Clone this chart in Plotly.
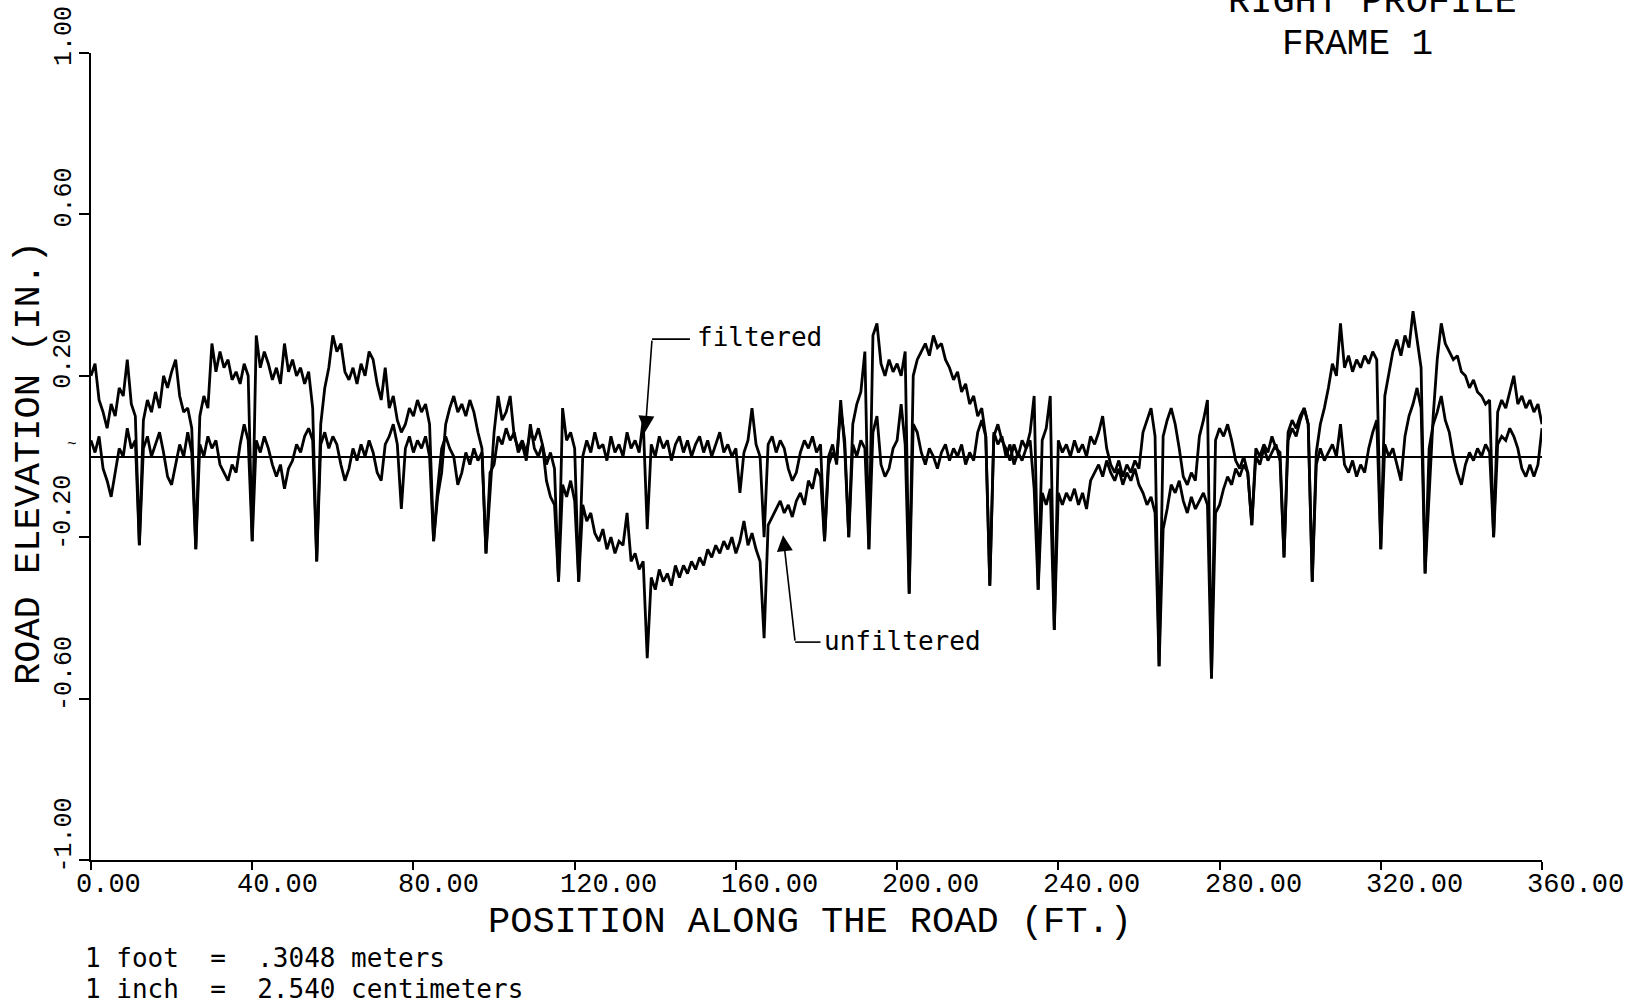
import plotly.graph_objects as go

# Road elevation profile, right wheel track, frame 1 (sampled every foot)
position_ft = list(range(0, 361))

unfiltered_in = [
    0.20, 0.23, 0.14, 0.11, 0.07, 0.13, 0.10, 0.17, 0.15, 0.24,
    0.13, 0.10, -0.22, 0.09, 0.14, 0.11, 0.16, 0.12, 0.20, 0.17,
    0.21, 0.24, 0.15, 0.11, 0.12, 0.07, -0.23, 0.10, 0.15, 0.12,
    0.28, 0.21, 0.26, 0.22, 0.24, 0.19, 0.21, 0.18, 0.23, 0.20,
    -0.21, 0.30, 0.22, 0.26, 0.23, 0.19, 0.22, 0.18, 0.28, 0.21,
    0.24, 0.20, 0.22, 0.18, 0.21, 0.12, -0.26, 0.08, 0.17, 0.22,
    0.30, 0.26, 0.28, 0.21, 0.19, 0.22, 0.18, 0.23, 0.20, 0.26,
    0.24, 0.18, 0.14, 0.22, 0.12, 0.15, 0.09, 0.06, 0.08, 0.12,
    0.10, 0.14, 0.11, 0.13, 0.08, -0.21, -0.10, -0.04, 0.08, 0.12,
    0.15, 0.11, 0.13, 0.10, 0.14, 0.11, 0.06, 0.02, -0.24, -0.08,
    0.06, 0.15, 0.09, 0.11, 0.15, 0.05, 0.02, 0.04, 0.01, 0.06,
    0.04, 0.07, 0.03, -0.06, -0.10, -0.12, -0.31, -0.07, -0.10, -0.06,
    -0.11, -0.31, -0.12, -0.16, -0.14, -0.19, -0.21, -0.18, -0.23, -0.20,
    -0.24, -0.21, -0.22, -0.14, -0.26, -0.24, -0.28, -0.26, -0.50, -0.30,
    -0.33, -0.28, -0.31, -0.29, -0.32, -0.27, -0.30, -0.27, -0.29, -0.26,
    -0.28, -0.25, -0.27, -0.23, -0.25, -0.22, -0.24, -0.21, -0.23, -0.20,
    -0.24, -0.21, -0.16, -0.22, -0.19, -0.23, -0.26, -0.45, -0.17, -0.15,
    -0.13, -0.11, -0.14, -0.12, -0.15, -0.11, -0.09, -0.12, -0.06, -0.08,
    -0.03, -0.05, -0.21, -0.02, 0.01, -0.01, 0.12, 0.04, -0.20, 0.08,
    0.13, 0.16, 0.26, -0.23, 0.30, 0.33, 0.23, 0.20, 0.24, 0.21,
    0.23, 0.20, 0.26, -0.34, 0.20, 0.24, 0.26, 0.28, 0.25, 0.30,
    0.27, 0.28, 0.24, 0.22, 0.19, 0.21, 0.16, 0.18, 0.13, 0.15,
    0.10, 0.12, 0.05, -0.32, 0.06, 0.03, 0.05, 0.00, 0.03, -0.02,
    0.01, -0.01, 0.02, 0.04, -0.08, -0.33, -0.09, -0.12, -0.08, -0.43,
    -0.09, -0.12, -0.09, -0.11, -0.08, -0.12, -0.09, -0.13, -0.06, -0.04,
    -0.02, -0.05, -0.01, -0.04, -0.06, -0.03, -0.07, -0.04, -0.06, -0.03,
    -0.07, -0.09, -0.12, -0.10, -0.14, -0.52, -0.18, -0.13, -0.07, -0.09,
    -0.06, -0.11, -0.14, -0.10, -0.13, -0.11, -0.09, -0.12, -0.55, -0.14,
    -0.12, -0.08, -0.05, -0.07, -0.03, -0.05, -0.02, -0.04, -0.17, 0.00,
    -0.02, 0.02, -0.01, 0.01, 0.03, -0.01, -0.25, 0.04, 0.07, 0.05,
    0.09, 0.12, 0.08, -0.31, 0.01, 0.08, 0.12, 0.17, 0.23, 0.20,
    0.33, 0.22, 0.25, 0.21, 0.24, 0.22, 0.25, 0.23, 0.26, 0.24,
    -0.23, 0.15, 0.21, 0.26, 0.29, 0.25, 0.30, 0.27, 0.36, 0.29,
    0.22, -0.29, -0.08, 0.10, 0.24, 0.33, 0.28, 0.26, 0.24, 0.25,
    0.21, 0.20, 0.17, 0.19, 0.16, 0.15, 0.13, 0.14, -0.20, 0.11,
    0.14, 0.12, 0.16, 0.20, 0.13, 0.15, 0.12, 0.14, 0.11, 0.13,
    0.08,
]

filtered_in = [
    0.04, 0.01, 0.05, -0.03, -0.06, -0.10, -0.04, 0.02, 0.00, 0.07,
    0.02, 0.04, -0.22, 0.02, 0.05, 0.00, 0.03, 0.06, 0.01, -0.05,
    -0.07, -0.02, 0.03, 0.00, 0.06, 0.01, -0.23, 0.03, 0.00, 0.05,
    0.02, 0.04, -0.02, -0.04, -0.06, -0.02, -0.04, 0.03, 0.08, 0.04,
    -0.21, 0.04, 0.01, 0.05, 0.02, -0.02, -0.05, -0.02, -0.08, -0.03,
    -0.01, 0.03, 0.01, 0.05, 0.07, 0.04, -0.26, 0.03, 0.06, 0.02,
    0.05, 0.03, -0.02, -0.06, -0.03, 0.02, -0.01, 0.03, 0.00, 0.04,
    0.01, -0.04, -0.06, 0.03, 0.05, 0.08, 0.03, -0.13, 0.02, 0.05,
    0.01, 0.04, 0.02, 0.05, 0.00, -0.21, -0.08, 0.02, 0.05, 0.02,
    0.00, -0.07, -0.04, 0.01, -0.02, 0.02, -0.01, 0.01, -0.24, -0.04,
    -0.02, 0.05, 0.03, 0.07, 0.04, 0.06, 0.01, 0.03, -0.01, 0.08,
    0.02, 0.00, 0.03, -0.02, 0.01, -0.03, -0.31, 0.12, 0.04, 0.06,
    0.02, -0.31, 0.00, 0.04, 0.01, 0.06, 0.02, 0.03, -0.01, 0.05,
    0.01, 0.03, 0.00, 0.06, 0.02, 0.04, 0.01, 0.09, -0.18, 0.03,
    0.00, 0.05, 0.02, 0.04, -0.01, 0.03, 0.05, 0.01, 0.04, 0.00,
    0.03, 0.05, 0.01, 0.04, 0.00, 0.03, 0.06, 0.01, 0.03, 0.00,
    0.02, -0.09, 0.01, 0.04, 0.12, 0.03, 0.00, -0.20, 0.03, 0.05,
    0.01, 0.04, 0.02, -0.03, -0.06, -0.04, 0.01, 0.04, 0.02, 0.05,
    0.01, 0.03, -0.21, 0.00, 0.03, -0.02, 0.14, 0.02, -0.20, 0.03,
    0.00, 0.04, 0.02, -0.23, 0.06, 0.10, -0.02, -0.05, -0.03, 0.02,
    0.04, 0.13, 0.03, -0.34, 0.08, 0.06, 0.01, -0.02, 0.02, 0.00,
    -0.03, 0.01, 0.03, -0.01, 0.02, 0.00, 0.03, -0.02, 0.01, -0.01,
    0.06, 0.09, 0.05, -0.32, 0.05, 0.08, 0.04, 0.02, -0.01, 0.03,
    0.00, 0.04, 0.02, 0.06, 0.15, -0.33, 0.04, 0.07, 0.15, -0.43,
    0.04, 0.01, 0.03, 0.00, 0.04, 0.01, 0.03, 0.00, 0.05, 0.03,
    0.06, 0.10, 0.02, -0.02, -0.04, -0.01, -0.05, -0.02, -0.04, -0.01,
    -0.03, 0.06, 0.09, 0.12, 0.05, -0.52, 0.05, 0.09, 0.12, 0.08,
    0.02, -0.05, -0.07, -0.04, -0.06, 0.05, 0.09, 0.14, -0.55, 0.04,
    0.07, 0.05, 0.08, 0.04, -0.01, -0.03, 0.00, -0.04, -0.17, 0.02,
    0.00, 0.03, 0.01, 0.05, 0.02, 0.01, -0.25, 0.06, 0.09, 0.07,
    0.10, 0.12, 0.08, -0.31, -0.02, 0.02, -0.01, 0.01, 0.03, 0.00,
    0.08, -0.02, -0.04, -0.01, -0.05, -0.02, -0.04, 0.02, 0.06, 0.09,
    -0.23, 0.03, 0.00, 0.02, -0.02, -0.06, 0.05, 0.10, 0.13, 0.17,
    0.12, -0.29, 0.02, 0.08, 0.11, 0.15, 0.09, 0.06, 0.00, -0.04,
    -0.07, -0.02, 0.01, -0.01, 0.02, 0.00, 0.03, 0.01, -0.20, 0.03,
    0.05, 0.04, 0.07, 0.05, 0.02, -0.03, -0.05, -0.02, -0.05, -0.02,
    0.07,
]

x_tick_values = [0, 40, 80, 120, 160, 200, 240, 280, 320, 360]
x_tick_labels = ["0.00", "40.00", "80.00", "120.00", "160.00", "200.00",
                 "240.00", "280.00", "320.00", "360.00"]
y_tick_values = [-1.0, -0.6, -0.2, 0.2, 0.6, 1.0]
y_tick_labels = ["-1.00", "-0.60", "-0.20", "0.20", "0.60", "1.00"]

x_title = "POSITION ALONG THE ROAD (FT.)"
y_title = "ROAD ELEVATION (IN.)"
header_lines = ["RIGHT PROFILE", "FRAME 1"]
unit_notes = ["1 foot  =  .3048 meters", "1 inch  =  2.540 centimeters"]

# page layout (pixels)
W, H = 1631, 1004
PL, PR, PT, PB = 91, 1542, 53, 860

PLOTTER = "Liberation Mono"
TYPEWRITER = "DejaVu Sans Mono"


def px(x):
    return (x - PL) / (PR - PL)


def py(y):
    return (PB - y) / (PB - PT)


def nbsp(s):
    return s.replace(" ", "\u00a0")


def label(x, y, text, size, family=PLOTTER, xanchor="center", angle=0, **kw):
    d = dict(x=x, y=y, xref="paper", yref="paper", text=text, showarrow=False,
             xanchor=xanchor, yanchor="middle", textangle=angle,
             font=dict(family=family, size=size, color="black"))
    d.update(kw)
    return d


fig = go.Figure()
fig.add_trace(go.Scatter(x=position_ft, y=unfiltered_in, mode="lines",
                         line=dict(color="black", width=2.8), name="unfiltered"))
fig.add_trace(go.Scatter(x=position_ft, y=filtered_in, mode="lines",
                         line=dict(color="black", width=2.8), name="filtered"))

ann = []

# x tick labels, left-anchored just before each tick
for v, t in zip(x_tick_values, x_tick_labels):
    ann.append(label(v, py(885), t, 27, xanchor="left", xref="x", xshift=-17))

# y tick labels, rotated
for v, t in zip(y_tick_values, y_tick_labels):
    ann.append(label(px(64), v, t, 25, angle=-90, yref="y",
                     yanchor="bottom", yshift=-15))
ann.append(label(px(72), py(445), "~", 16))

# axis titles
ann.append(label(px(810), py(922), x_title, 37))
ann.append(label(px(29), py(463), y_title, 37, angle=-90))

# header at top right
ann.append(label(px(1372), py(2), header_lines[0], 37))
ann.append(label(px(1357), py(44), header_lines[1], 36))

# unit conversion notes
for i, note in enumerate(unit_notes):
    ann.append(label(px(83), py(958 + 31 * i), nbsp(note), 26,
                     family=TYPEWRITER, xanchor="left"))

# series call-outs with leader arrows
ann.append(dict(x=137.5, y=0.061, ax=139.2, ay=0.291, xref="x", yref="y",
                axref="x", ayref="y", text="", showarrow=True, arrowhead=2,
                arrowsize=2.0, arrowwidth=1.6, arrowcolor="black"))
ann.append(label(px(695), py(337), "filtered", 26, family=TYPEWRITER, xanchor="left"))
ann.append(dict(x=171.7, y=-0.195, ax=174.7, ay=-0.46, xref="x", yref="y",
                axref="x", ayref="y", text="", showarrow=True, arrowhead=2,
                arrowsize=2.0, arrowwidth=1.6, arrowcolor="black"))
ann.append(label(px(822), py(641), "unfiltered", 26, family=TYPEWRITER, xanchor="left"))

shapes = [
    dict(type="line", xref="x", yref="y", x0=139.2, y0=0.291, x1=148.6, y1=0.291,
         line=dict(color="black", width=1.6)),
    dict(type="line", xref="x", yref="y", x0=174.7, y0=-0.46, x1=181.0, y1=-0.46,
         line=dict(color="black", width=1.6)),
]

fig.update_layout(
    width=W, height=H,
    margin=dict(l=PL, r=W - PR, t=PT, b=H - PB, pad=0),
    paper_bgcolor="white", plot_bgcolor="white",
    showlegend=False,
    annotations=ann,
    shapes=shapes,
    xaxis=dict(range=[0, 360], showline=True, linecolor="black", linewidth=2,
               ticks="outside", ticklen=8, tickwidth=1.5, tickcolor="black",
               tickvals=x_tick_values, showticklabels=False,
               showgrid=False, zeroline=False, fixedrange=True),
    yaxis=dict(range=[-1, 1], showline=True, linecolor="black", linewidth=2,
               ticks="outside", ticklen=10, tickwidth=1.5, tickcolor="black",
               tickvals=y_tick_values, showticklabels=False,
               showgrid=False, zeroline=True, zerolinecolor="black",
               zerolinewidth=1.5, fixedrange=True),
)

fig.write_html("out.html")
